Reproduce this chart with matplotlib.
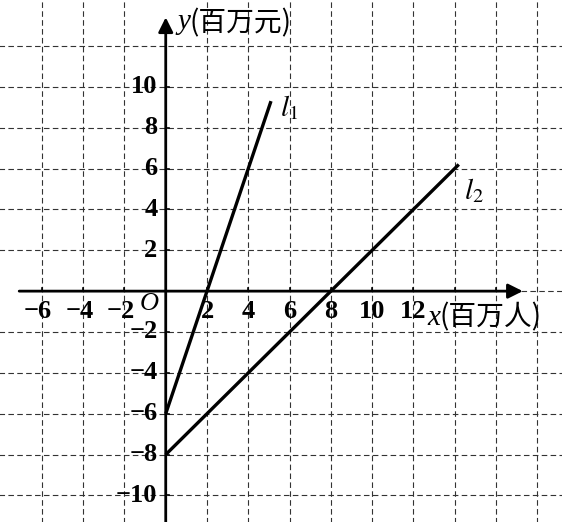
import matplotlib
matplotlib.use("Agg")
import matplotlib.pyplot as plt
import numpy as np

plt.rcParams["mathtext.fontset"] = "stix"

# Line data: l1 (steep) and l2 (shallow)
l1_x = [0, 5.1]
l1_y = [-6, 9.3]
l2_x = [0, 14.2]
l2_y = [-8, 6.2]

x_ticks = [-6, -4, -2, 2, 4, 6, 8, 10, 12]
y_ticks = [10, 8, 6, 4, 2, -2, -4, -6, -8, -10]
grid_x = [-6, -4, -2, 2, 4, 6, 8, 10, 12, 14, 16, 18]
grid_y = [-10, -8, -6, -4, -2, 2, 4, 6, 8, 10, 12]

serif = "Liberation Serif"
cjk = ["Noto Sans CJK SC", "DejaVu Sans"]

fig = plt.figure(figsize=(5.62, 5.22), dpi=100)
ax = fig.add_axes([0, 0, 1, 1])
ax.set_xlim(-8.03, 19.2)
ax.set_ylim(-11.3, 14.25)
ax.axis("off")

# Dashed grid
dash = (0, (5, 3))
for gx in grid_x:
    ax.plot([gx, gx], [-12, 15], color="#333333", lw=0.8, ls=dash)
for gy in grid_y:
    ax.plot([-9, 20], [gy, gy], color="#333333", lw=0.8, ls=dash)
ax.plot([17.2, 20], [0, 0], color="#333333", lw=0.8, ls=dash)

# Axes with arrows
ax.annotate("", xy=(17.3, 0), xytext=(-7.1, 0),
            arrowprops=dict(arrowstyle="-|>", lw=2, color="black",
                            mutation_scale=22, shrinkA=0, shrinkB=0))
ax.annotate("", xy=(0, 13.4), xytext=(0, -12),
            arrowprops=dict(arrowstyle="-|>", lw=2, color="black",
                            mutation_scale=22, shrinkA=0, shrinkB=0))

# Small ticks on the axes
for t in x_ticks + [14, 16]:
    ax.plot([t, t], [0, 0.15], color="black", lw=1.2)
for t in y_ticks:
    ax.plot([0, 0.15], [t, t], color="black", lw=1.2)

# The two lines
ax.plot(l1_x, l1_y, color="black", lw=2.4, solid_capstyle="butt")
ax.plot(l2_x, l2_y, color="black", lw=2.4, solid_capstyle="butt")

# Tick labels
fs = 19
for t in x_ticks:
    if t < 0:
        ax.text(t + 0.5, -1.0, "\u2212" + str(-t), ha="right", va="center",
                fontsize=fs, fontweight="bold", family=serif)
    else:
        ax.text(t, -1.0, str(t), ha="center", va="center",
                fontsize=fs, fontweight="bold", family=serif)
for t in y_ticks:
    s = str(t) if t > 0 else "\u2212" + str(-t)
    ax.text(-0.4, t, s, ha="right", va="center",
            fontsize=fs, fontweight="bold", family=serif)

ax.text(-0.78, -0.65, "O", ha="center", va="center", fontsize=19,
        style="italic", family=serif)

# Axis titles
ax.text(0.55, 13.15, "y", ha="left", va="center", fontsize=21,
        style="italic", family=serif)
ax.text(1.15, 13.1, "(百万元)", ha="left", va="center", fontsize=20,
        family=cjk)
ax.text(12.7, -1.3, "x", ha="left", va="center", fontsize=21,
        style="italic", family=serif)
ax.text(13.25, -1.3, "(百万人)", ha="left", va="center", fontsize=20,
        family=cjk)

# Line labels
ax.text(5.55, 9.0, "$l_1$", ha="left", va="center", fontsize=21)
ax.text(14.45, 4.9, "$l_2$", ha="left", va="center", fontsize=21)

fig.savefig("out.png", dpi=100)
